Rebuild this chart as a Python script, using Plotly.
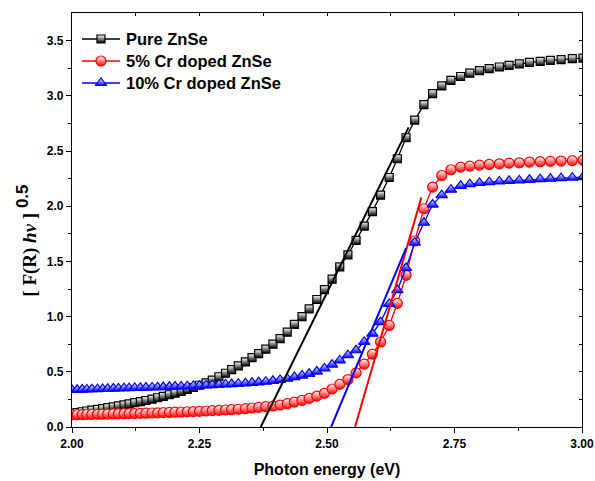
import plotly.graph_objects as go

# Photon energy grid (eV)
energy = [2.000, 2.010, 2.020, 2.029, 2.039, 2.050, 2.060, 2.070, 2.081, 2.091,
          2.102, 2.112, 2.123, 2.134, 2.145, 2.157, 2.168, 2.179, 2.191, 2.202,
          2.214, 2.226, 2.238, 2.250, 2.263, 2.275, 2.288, 2.301, 2.313, 2.326,
          2.340, 2.353, 2.366, 2.380, 2.394, 2.408, 2.422, 2.436, 2.451, 2.465,
          2.480, 2.495, 2.510, 2.525, 2.541, 2.557, 2.573, 2.589, 2.605, 2.622,
          2.638, 2.655, 2.672, 2.690, 2.707, 2.725, 2.743, 2.762, 2.780, 2.799,
          2.818, 2.838, 2.857, 2.877, 2.897, 2.918, 2.938, 2.959, 2.981, 3.002]

pure = [0.125, 0.130, 0.138, 0.145, 0.152, 0.160, 0.167, 0.175, 0.183, 0.192,
        0.200, 0.210, 0.220, 0.230, 0.240, 0.252, 0.265, 0.278, 0.292, 0.306,
        0.322, 0.340, 0.358, 0.378, 0.400, 0.425, 0.455, 0.487, 0.520, 0.553,
        0.590, 0.628, 0.665, 0.705, 0.750, 0.800, 0.860, 0.930, 1.000, 1.070,
        1.155, 1.245, 1.340, 1.450, 1.560, 1.690, 1.820, 1.950, 2.100, 2.260,
        2.430, 2.620, 2.780, 2.920, 3.020, 3.090, 3.140, 3.175, 3.205, 3.228,
        3.246, 3.261, 3.276, 3.290, 3.302, 3.312, 3.320, 3.328, 3.336, 3.342]

cr5 = [0.110, 0.111, 0.112, 0.113, 0.114, 0.115, 0.116, 0.117, 0.118, 0.119,
       0.120, 0.121, 0.122, 0.124, 0.125, 0.127, 0.128, 0.130, 0.132, 0.134,
       0.136, 0.138, 0.140, 0.142, 0.145, 0.148, 0.151, 0.154, 0.157, 0.161,
       0.166, 0.172, 0.178, 0.184, 0.190, 0.199, 0.211, 0.226, 0.241, 0.259,
       0.280, 0.305, 0.344, 0.386, 0.430, 0.490, 0.570, 0.660, 0.770, 0.920,
       1.120, 1.374, 1.685, 1.977, 2.173, 2.278, 2.330, 2.354, 2.363, 2.372,
       2.378, 2.384, 2.390, 2.393, 2.400, 2.403, 2.406, 2.409, 2.413, 2.416]

cr10 = [0.335, 0.337, 0.339, 0.340, 0.342, 0.343, 0.345, 0.346, 0.348, 0.349,
        0.351, 0.352, 0.354, 0.355, 0.357, 0.358, 0.360, 0.362, 0.364, 0.366,
        0.368, 0.370, 0.372, 0.374, 0.377, 0.380, 0.383, 0.386, 0.389, 0.392,
        0.396, 0.400, 0.405, 0.410, 0.418, 0.427, 0.438, 0.452, 0.466, 0.482,
        0.502, 0.530, 0.565, 0.603, 0.650, 0.695, 0.770, 0.845, 0.950, 1.115,
        1.240, 1.440, 1.670, 1.850, 2.015, 2.100, 2.150, 2.185, 2.200, 2.210,
        2.218, 2.224, 2.230, 2.234, 2.239, 2.245, 2.249, 2.254, 2.259, 2.264]

# Linear (Tauc) fit segments: [start, end] energies and values
fit_pure_x = [2.370, 2.660]
fit_pure_y = [0.000, 2.714]
fit_cr5_x = [2.555, 2.685]
fit_cr5_y = [0.000, 2.080]
fit_cr10_x = [2.508, 2.655]
fit_cr10_y = [0.000, 1.620]

series_names = ["Pure ZnSe", "5% Cr doped ZnSe", "10% Cr doped ZnSe"]
colors = ["black", "red", "blue"]
symbols = ["square", "circle", "triangle-up"]
sizes = [8, 10, 10]

# legend rows (in a pixel-like overlay coordinate system of the plot area)
legend_rows = [388, 366, 344]

fig = go.Figure()

for name, ys, col, sym, sz in zip(series_names, [pure, cr5, cr10], colors, symbols, sizes):
    mk = dict(symbol=sym, size=sz, color="white",
              gradient=dict(type="vertical", color=col),
              line=dict(color=col, width=1.2))
    fig.add_trace(go.Scatter(
        x=energy, y=ys, name=name, mode="lines+markers", showlegend=False,
        line=dict(color=col, width=1.3), marker=mk,
    ))

for fx, fy, col in zip([fit_pure_x, fit_cr5_x, fit_cr10_x],
                       [fit_pure_y, fit_cr5_y, fit_cr10_y], colors):
    fig.add_trace(go.Scatter(x=fx, y=fy, mode="lines", showlegend=False,
                             line=dict(color=col, width=2), hoverinfo="skip"))

# custom legend: sample line + marker, then bold label
for name, col, sym, sz, ry in zip(series_names, colors, symbols, sizes, legend_rows):
    fig.add_trace(go.Scatter(x=[10, 48], y=[ry, ry], xaxis="x2", yaxis="y2",
                             mode="lines", line=dict(color=col, width=1.3),
                             showlegend=False, hoverinfo="skip"))
    fig.add_trace(go.Scatter(x=[29], y=[ry], xaxis="x2", yaxis="y2", mode="markers",
                             marker=dict(symbol=sym, size=sz, color="white",
                                         gradient=dict(type="vertical", color=col),
                                         line=dict(color=col, width=1.2)),
                             showlegend=False, hoverinfo="skip"))
    fig.add_annotation(text="<b>" + name + "</b>", xref="x2", yref="y2",
                       x=52, y=ry, xanchor="left", yanchor="middle", showarrow=False,
                       font=dict(family="Liberation Sans, Arial", size=16.5, color="black"))

tickfont = dict(family="Liberation Sans, Arial", size=12, color="black")

fig.update_layout(
    width=595, height=481,
    margin=dict(l=72, r=13, t=13, b=54, autoexpand=False),
    plot_bgcolor="white", paper_bgcolor="white",
    showlegend=False,
    xaxis=dict(range=[2.0, 3.0], tickvals=[2.0, 2.25, 2.5, 2.75, 3.0],
               ticktext=["<b>2.00</b>", "<b>2.25</b>", "<b>2.50</b>", "<b>2.75</b>", "<b>3.00</b>"],
               ticks="outside", ticklen=5, tickwidth=1.2, tickcolor="black",
               minor=dict(tickvals=[2.125, 2.375, 2.625, 2.875], ticks="outside",
                          ticklen=3, tickwidth=1.2, tickcolor="black"),
               showline=True, linecolor="black", linewidth=1.3, mirror=True,
               showgrid=False, zeroline=False, tickfont=tickfont, automargin=False,
               title=dict(text="<b>Photon energy (eV)</b>",
                          font=dict(family="Liberation Sans, Arial", size=16, color="black"),
                          standoff=14)),
    yaxis=dict(range=[0, 3.75], tickvals=[0, 0.5, 1.0, 1.5, 2.0, 2.5, 3.0, 3.5],
               ticktext=["<b>0.0</b>", "<b>0.5</b>", "<b>1.0</b>", "<b>1.5</b>",
                         "<b>2.0</b>", "<b>2.5</b>", "<b>3.0</b>", "<b>3.5</b>"],
               ticks="outside", ticklen=5, tickwidth=1.2, tickcolor="black",
               minor=dict(tickvals=[0.25, 0.75, 1.25, 1.75, 2.25, 2.75, 3.25],
                          ticks="outside", ticklen=3, tickwidth=1.2, tickcolor="black"),
               showline=True, linecolor="black", linewidth=1.3, mirror=True,
               showgrid=False, zeroline=False, tickfont=tickfont, automargin=False),
    # overlay axes: pixel-like coordinates of the plot area, ticks drawn inside on top/right
    xaxis2=dict(range=[0, 510], overlaying="x", side="top", showticklabels=False,
                tickvals=[0, 63.75, 127.5, 191.25, 255, 318.75, 382.5, 446.25, 510],
                ticks="inside", ticklen=3, tickwidth=1, tickcolor="black",
                showline=False, showgrid=False, zeroline=False, automargin=False),
    yaxis2=dict(range=[0, 414], overlaying="y", side="right", showticklabels=False,
                tickvals=[i * 27.6 for i in range(15)],
                ticks="inside", ticklen=3, tickwidth=1, tickcolor="black",
                showline=False, showgrid=False, zeroline=False, automargin=False),
)

ytitle = ('<b>[ F(R) <i>h\u03bd</i> ]</b>'
          '<sup><span style="font-family:Liberation Sans, Arial;font-weight:bold;font-size:17px">'
          ' 0.5</span></sup>')
fig.add_annotation(text=ytitle, xref="paper", yref="paper",
                   x=-(72 - 27) / 510, y=0.45, xanchor="center", yanchor="middle",
                   textangle=-90, showarrow=False,
                   font=dict(size=19, color="black", family="Liberation Serif, Times New Roman"))

fig.write_html("out.html")
